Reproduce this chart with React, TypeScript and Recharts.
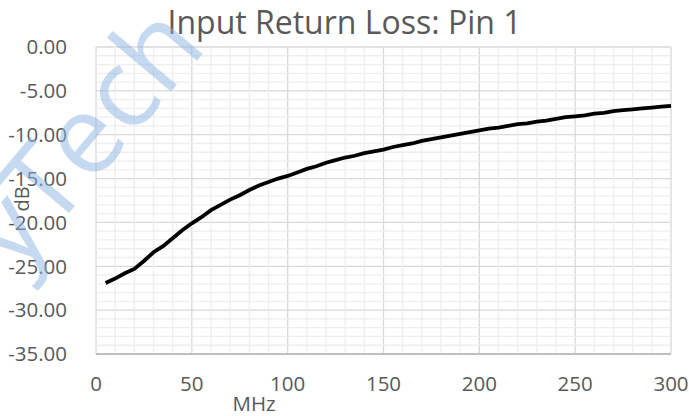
import { LineChart, Line, XAxis, YAxis, CartesianGrid, Label, ReferenceLine } from 'recharts'

// frequency (MHz) and return loss (dB)
const freq = [
  5, 10, 15, 20, 25, 30, 35, 40, 45, 50, 55, 60, 65, 70, 75, 80, 85, 90, 95, 100,
  105, 110, 115, 120, 125, 130, 135, 140, 145, 150, 155, 160, 165, 170, 175, 180, 185, 190, 195, 200,
  205, 210, 215, 220, 225, 230, 235, 240, 245, 250, 255, 260, 265, 270, 275, 280, 285, 290, 295, 300,
]
const loss = [
  -26.9, -26.4, -25.8, -25.3, -24.4, -23.4, -22.7, -21.8, -20.9, -20.1, -19.4, -18.6, -18.0, -17.4, -16.9, -16.3, -15.8, -15.4, -15.0, -14.7,
  -14.3, -13.9, -13.6, -13.2, -12.9, -12.6, -12.4, -12.1, -11.9, -11.7, -11.4, -11.2, -11.0, -10.7, -10.5, -10.3, -10.1, -9.9, -9.7, -9.5,
  -9.3, -9.2, -9.0, -8.8, -8.7, -8.5, -8.4, -8.2, -8.0, -7.9, -7.8, -7.6, -7.5, -7.3, -7.2, -7.1, -7.0, -6.9, -6.8, -6.7,
]

const xTicks = [0, 50, 100, 150, 200, 250, 300]
const yTicks = [-35, -30, -25, -20, -15, -10, -5, 0]
// minor gridlines (between the major ones)
const xMinor = [10, 20, 30, 40, 60, 70, 80, 90, 110, 120, 130, 140, 160, 170, 180, 190, 210, 220, 230, 240, 260, 270, 280, 290]
const yMinor = [
  -34, -33, -32, -31, -29, -28, -27, -26, -24, -23, -22, -21, -19, -18, -17, -16,
  -14, -13, -12, -11, -9, -8, -7, -6, -4, -3, -2, -1,
]

const data = freq.map((f, i) => ({ f, db: loss[i] }))

const font = '"Open Sans", sans-serif'
const grey = '#595959'

export default function App() {
  return (
    <div style={{ position: 'absolute', left: 0, top: 0, width: 689, height: 416, background: '#fff', overflow: 'hidden', fontFamily: font }}>
      <div style={{ position: 'absolute', left: 0, width: 689, top: 0, textAlign: 'center', fontSize: 32, color: grey, lineHeight: '44px' }}>
        Input Return Loss: Pin 1
      </div>
      <LineChart width={689} height={416} data={data} margin={{ top: 47, right: 18, left: 0, bottom: 0 }}>
        <CartesianGrid stroke="#d9d9d9" strokeWidth={1.3} />
        {xMinor.map((v) => (
          <ReferenceLine key={'x' + v} x={v} stroke="#eeeeee" strokeWidth={1.3} />
        ))}
        {yMinor.map((v) => (
          <ReferenceLine key={'y' + v} y={v} stroke="#eeeeee" strokeWidth={1.3} />
        ))}
        <XAxis
          dataKey="f"
          type="number"
          domain={[0, 300]}
          ticks={xTicks}
          interval={0}
          height={62}
          tickLine={false}
          tickSize={0}
          tickMargin={22}
          axisLine={{ stroke: '#bfbfbf', strokeWidth: 2 }}
          tick={{ fill: grey, fontSize: 20.5, fontFamily: font }}
        >
          <Label
            content={(p: any) => (
              <text x={p.viewBox.x + p.viewBox.width * 0.275} y={p.viewBox.y + 57} textAnchor="middle" fill={grey} fontSize={20.5} fontFamily={font}>
                MHz
              </text>
            )}
          />
        </XAxis>
        <YAxis
          type="number"
          domain={[-35, 0]}
          ticks={yTicks}
          interval={0}
          width={96}
          tickLine={false}
          tickSize={0}
          tickMargin={29}
          axisLine={false}
          tickFormatter={(v: number) => v.toFixed(2)}
          tick={{ fill: grey, fontSize: 20.5, fontFamily: font }}
        >
          <Label
            content={(p: any) => (
              <text x={0} y={0} transform={`translate(${p.viewBox.x + 29}, ${p.viewBox.y + p.viewBox.height * 0.495}) rotate(-90)`} textAnchor="middle" fill={grey} fontSize={20} fontFamily={font}>
                dB
              </text>
            )}
          />
        </YAxis>
        <Line type="linear" dataKey="db" stroke="#000" strokeWidth={3.8} dot={false} isAnimationActive={false} />
      </LineChart>
      {/* watermark */}
      <div
        style={{
          position: 'absolute',
          left: -58,
          top: 212,
          transformOrigin: '0 0',
          transform: 'rotate(-50deg)',
          fontSize: 110,
          lineHeight: 1,
          color: 'rgba(140, 180, 228, 0.5)',
          whiteSpace: 'nowrap',
          pointerEvents: 'none',
          fontFamily: font,
        }}
      >
        yTech
      </div>
    </div>
  )
}
